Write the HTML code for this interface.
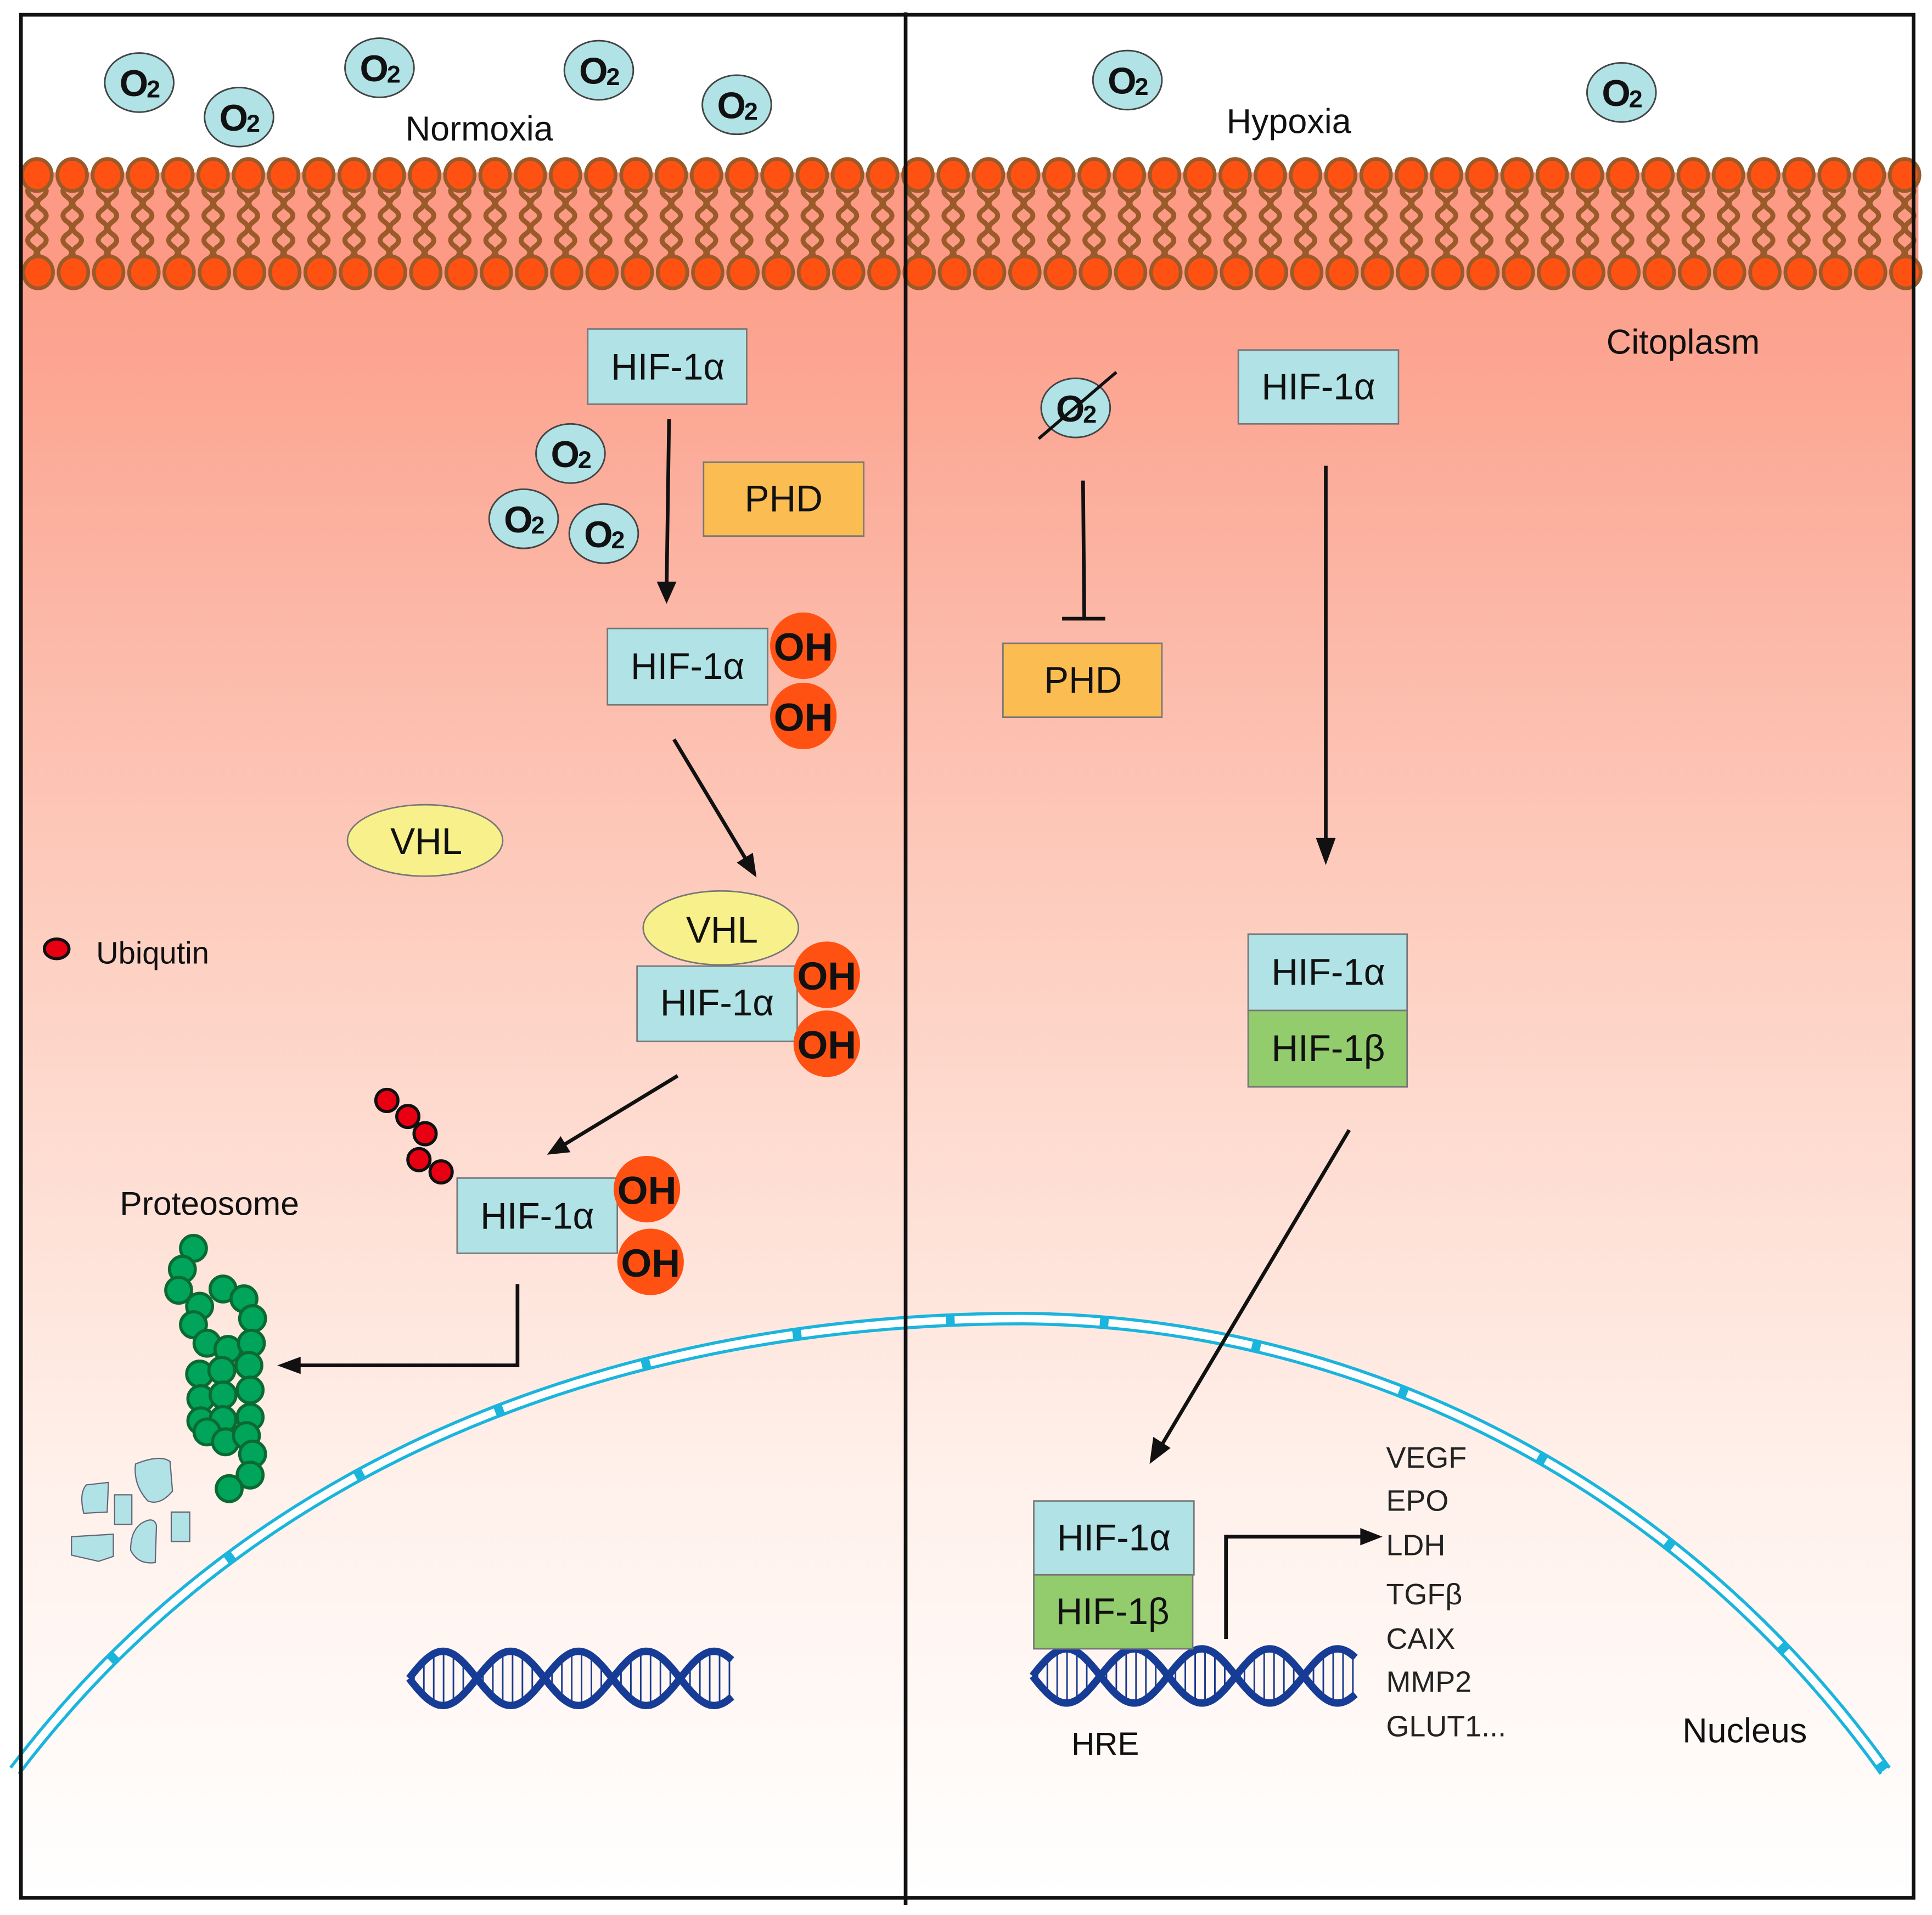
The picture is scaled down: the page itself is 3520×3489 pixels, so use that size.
<!DOCTYPE html>
<html><head><meta charset="utf-8">
<style>
html,body{margin:0;padding:0;background:#fff;}
svg{display:block;}
text{font-family:"Liberation Sans","DejaVu Sans",sans-serif;}
</style></head>
<body>
<svg id="s" width="3520" height="3489" viewBox="0 0 1568 1554" preserveAspectRatio="none" xmlns="http://www.w3.org/2000/svg">
<defs>
<linearGradient id="bg" x1="0" y1="0" x2="0" y2="1">
<stop offset="0" stop-color="#fb9a84"/>
<stop offset="0.12" stop-color="#fca693"/>
<stop offset="0.45" stop-color="#fdd0c2"/>
<stop offset="0.75" stop-color="#fff0ea"/>
<stop offset="1" stop-color="#ffffff"/>
</linearGradient>
</defs>
<rect width="1568" height="1554" fill="#fff"/>
<rect x="17" y="140" width="1536" height="1400" fill="url(#bg)"/>
<g id="mem"></g>

<!-- nucleus envelope -->
<path d="M12,1437 C230,1150 560,1070 830,1070 C1100,1072 1360,1200 1530,1437" fill="none" stroke="#1ab4dc" stroke-width="11"/>
<path d="M12,1437 C230,1150 560,1070 830,1070 C1100,1072 1360,1200 1530,1437" fill="none" stroke="#fff" stroke-width="6" stroke-dasharray="118 7"/>

<g id="dna"></g>
<g id="prot"></g>

<!-- frame -->
<rect x="17" y="12" width="1536" height="1528" fill="none" stroke="#111" stroke-width="3"/>
<line x1="735" y1="10" x2="735" y2="1546" stroke="#111" stroke-width="3"/>

<!-- labels -->
<g font-size="28" fill="#111">
<text x="389" y="114" text-anchor="middle">Normoxia</text>
<text x="1046" y="108" text-anchor="middle">Hypoxia</text>
<text x="1366" y="287" text-anchor="middle">Citoplasm</text>
<text x="170" y="986" text-anchor="middle" font-size="27">Proteosome</text>
<text x="78" y="782" font-size="25">Ubiqutin</text>
<text x="897" y="1424" text-anchor="middle" font-size="26">HRE</text>
<text x="1416" y="1414" text-anchor="middle">Nucleus</text>
</g>
<g font-size="24" fill="#222">
<text x="1125" y="1191">VEGF</text>
<text x="1125" y="1226">EPO</text>
<text x="1125" y="1262">LDH</text>
<text x="1125" y="1302">TGFβ</text>
<text x="1125" y="1338">CAIX</text>
<text x="1125" y="1373">MMP2</text>
<text x="1125" y="1409">GLUT1...</text>
</g>

<g id="o2s"></g>

<g stroke="#777" stroke-width="1.2" font-size="30" fill="#111">
<rect x="477" y="267" width="129" height="61" fill="#b0e2e6"/>
<rect x="571" y="375" width="130" height="60" fill="#fbbd52"/>
<rect x="493" y="510" width="130" height="62" fill="#b0e2e6"/>
<rect x="517" y="784" width="130" height="61" fill="#b0e2e6"/>
<rect x="371" y="956" width="130" height="61" fill="#b0e2e6"/>
<rect x="1005" y="284" width="130" height="60" fill="#b0e2e6"/>
<rect x="814" y="522" width="129" height="60" fill="#fbbd52"/>
<rect x="1013" y="758" width="129" height="62" fill="#b0e2e6"/>
<rect x="1013" y="820" width="129" height="62" fill="#92cc6c"/>
<rect x="839" y="1218" width="130" height="60" fill="#b0e2e6"/>
<rect x="839" y="1278" width="129" height="60" fill="#92cc6c"/>
<ellipse cx="345" cy="682" rx="63" ry="29" fill="#f8f08a"/>
<ellipse cx="585" cy="753" rx="63" ry="30" fill="#f8f08a"/>
</g>
<g font-size="30" fill="#111" text-anchor="middle">
<text x="542" y="308">HIF-1α</text>
<text x="636" y="415">PHD</text>
<text x="558" y="551">HIF-1α</text>
<text x="582" y="824">HIF-1α</text>
<text x="436" y="997">HIF-1α</text>
<text x="1070" y="324">HIF-1α</text>
<text x="879" y="562">PHD</text>
<text x="1078" y="799">HIF-1α</text>
<text x="1078" y="861">HIF-1β</text>
<text x="904" y="1258">HIF-1α</text>
<text x="903" y="1318">HIF-1β</text>
<text x="346" y="693">VHL</text>
<text x="586" y="765">VHL</text>
</g>

<g id="ohs"></g>

<g stroke="#111" stroke-width="3" fill="none">
<line x1="543" y1="340" x2="541" y2="478"/>
<line x1="547" y1="600" x2="607" y2="700"/>
<line x1="550" y1="873" x2="456" y2="930"/>
<polyline points="420,1042 420,1108 240,1108"/>
<line x1="1076" y1="378" x2="1076" y2="688"/>
<line x1="1095" y1="917" x2="942" y2="1174"/>
<line x1="879" y1="390" x2="880" y2="502"/>
<line x1="862" y1="502" x2="897" y2="502"/>
<polyline points="995,1330 995,1247 1108,1247"/>
</g>
<g fill="#111">
<polygon points="541,490 533,472 549,472"/>
<polygon points="614,712 598,700 611,692"/>
<polygon points="444,937 455,922 463,935"/>
<polygon points="225,1108 244,1101 244,1115"/>
<polygon points="1076,702 1068,680 1084,680"/>
<polygon points="933,1188 936,1166 950,1175"/>
<polygon points="1122,1247 1104,1240 1104,1254"/>
</g>

<g fill="#e80012" stroke="#111" stroke-width="2.5">
<ellipse cx="46" cy="770" rx="10" ry="8"/>
<circle cx="314" cy="893" r="9"/>
<circle cx="331" cy="906" r="9"/>
<circle cx="345" cy="920" r="9"/>
<circle cx="340" cy="941" r="9"/>
<circle cx="358" cy="951" r="9"/>
</g>
<g fill="#b0e2e6" stroke="#667" stroke-width="1">
<path d="M110,1188 Q130,1180 138,1186 L140,1210 Q130,1222 120,1218 Q108,1205 110,1188Z"/>
<path d="M70,1205 L88,1203 L87,1227 L68,1228 Q64,1212 70,1205Z"/>
<rect x="93" y="1213" width="14" height="24"/>
<rect x="139" y="1227" width="15" height="24"/>
<path d="M58,1247 L92,1245 L92,1263 L80,1267 L58,1262Z"/>
<path d="M115,1236 Q125,1230 127,1238 L126,1268 Q112,1270 106,1258 Q106,1242 115,1236Z"/>
</g>
</svg>
<script>
var NS="http://www.w3.org/2000/svg";
function el(p,t,a){var e=document.createElementNS(NS,t);for(var k in a)e.setAttribute(k,a[k]);p.appendChild(e);return e;}
var mem=document.getElementById('mem');
el(mem,'rect',{x:17,y:140,width:1540,height:85,fill:"#fc9a85"});
for(var x=30;x<1560;x+=28.6){
  var d1="M"+(x-4)+",150",d2="M"+(x+4)+",150";
  for(var y=150;y<212;y+=10){var s=((y-150)/10)%2?1:-1;d1+=" Q"+(x-4+7*s)+","+(y+5)+" "+(x-4)+","+(y+10);d2+=" Q"+(x+4-7*s)+","+(y+5)+" "+(x+4)+","+(y+10);}
  el(mem,'path',{d:d1,fill:"none",stroke:"#9a5a2a","stroke-width":4});
  el(mem,'path',{d:d2,fill:"none",stroke:"#9a5a2a","stroke-width":4});
  el(mem,'ellipse',{cx:x,cy:142,rx:12,ry:13,fill:"#ff5212",stroke:"#9a5a2a","stroke-width":3});
  el(mem,'ellipse',{cx:x+1,cy:221,rx:12,ry:13,fill:"#ff5212",stroke:"#9a5a2a","stroke-width":3});
}
var o2=document.getElementById('o2s');
[[113,67],[194,95],[308,55],[486,57],[598,85],[915,65],[1316,75],[463,368],[425,421],[490,433],[873,331]].forEach(function(p,i){
  el(o2,'ellipse',{cx:p[0],cy:p[1],rx:28,ry:24,fill:"#b0e2e6",stroke:"#444","stroke-width":1.3});
  var t=el(o2,'text',{x:p[0]-16,y:p[1]+11,"font-size":30,"font-weight":"bold",fill:"#111"});t.textContent="O";
  var t2=el(o2,'text',{x:p[0]+6,y:p[1]+12,"font-size":20,"font-weight":"bold",fill:"#111"});t2.textContent="2";
});
el(o2,'line',{x1:843,y1:356,x2:906,y2:302,stroke:"#111","stroke-width":2.5});
var oh=document.getElementById('ohs');
[[652,524],[652,581],[671,791],[671,847],[525,965],[528,1024]].forEach(function(p){
  el(oh,'circle',{cx:p[0],cy:p[1],r:27,fill:"#ff5212"});
  var t=el(oh,'text',{x:p[0],y:p[1]+12,"font-size":32,"font-weight":"bold",fill:"#111","text-anchor":"middle"});t.textContent="OH";
});
var dna=document.getElementById('dna');
function helix(x0,x1,yc,A,P){
  var a="",b="";
  for(var x=x0;x<=x1;x+=2){var ph=(x-x0)/P*2*Math.PI;var ya=yc+A*Math.sin(ph),yb=yc-A*Math.sin(ph);a+=(x==x0?"M":"L")+x+","+ya.toFixed(1);b+=(x==x0?"M":"L")+x+","+yb.toFixed(1);
    if((x-x0)%8==4&&Math.abs(Math.sin(ph))>0.2)el(dna,'line',{x1:x,y1:ya,x2:x,y2:yb,stroke:"#1a3a8f","stroke-width":1.3});}
  el(dna,'path',{d:a,fill:"none",stroke:"#163c96","stroke-width":6});
  el(dna,'path',{d:b,fill:"none",stroke:"#163c96","stroke-width":6});
}
helix(332,594,1362,22,110);
helix(838,1100,1360,22,110);
var pr=document.getElementById('prot');
[[157,1013],[148,1030],[145,1047],[162,1060],[181,1046],[198,1054],[157,1075],[205,1070],[168,1090],[185,1095],[204,1090],[162,1115],[180,1112],[202,1108],[163,1135],[181,1132],[203,1128],[163,1153],[181,1152],[203,1150],[168,1162],[183,1170],[200,1165],[205,1180],[203,1197],[186,1208]].forEach(function(p){
  el(pr,'circle',{cx:p[0],cy:p[1],r:10.5,fill:"#00a45a",stroke:"#0b6a32","stroke-width":2.5});
});
</script>
</body></html>
